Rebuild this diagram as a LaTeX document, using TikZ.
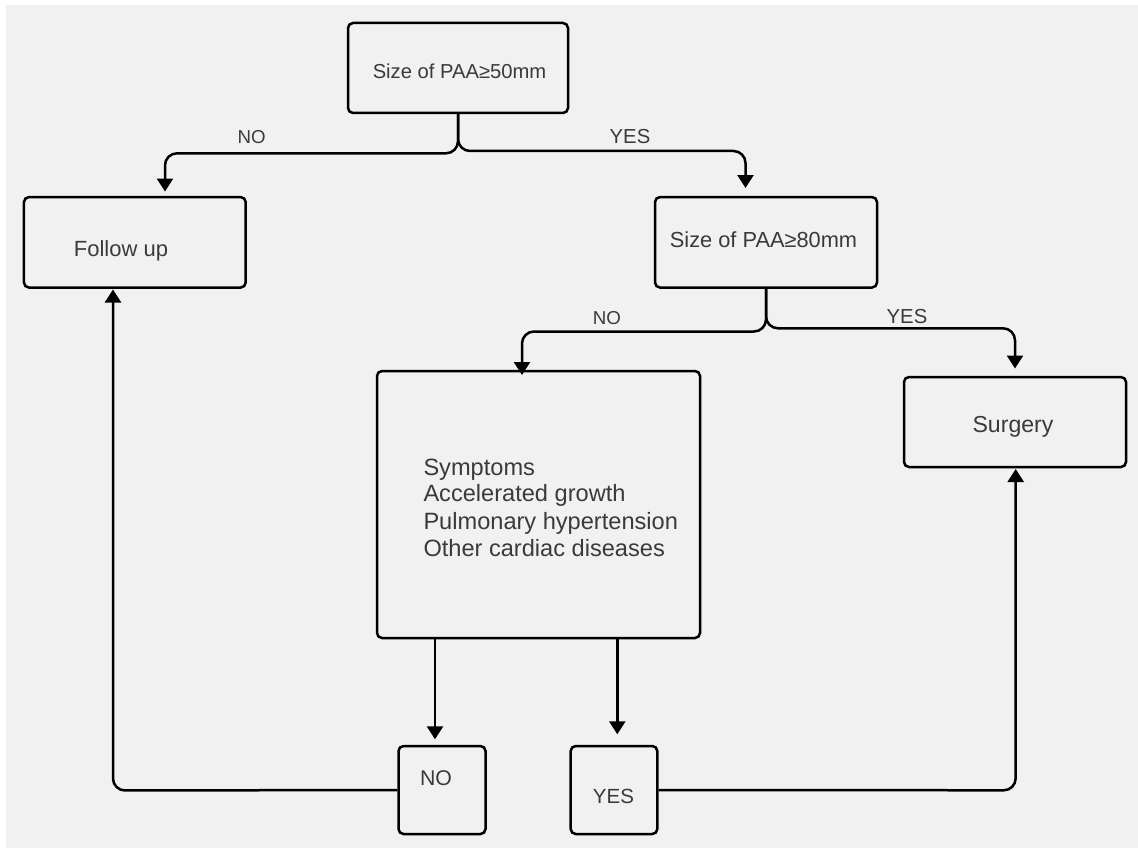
\documentclass[tikz,border=0pt]{standalone}
\usepackage{fontspec}
\setmainfont{Liberation Sans}
\usetikzlibrary{arrows.meta}
\definecolor{bggray}{HTML}{F1F1F1}
\definecolor{txt}{HTML}{3A3A3A}
\tikzset{
  box/.style={draw=black, line width=2.5pt, rounded corners=5pt, inner sep=0pt, fill=bggray},
  conn/.style={draw=black, line width=2.5pt, rounded corners=12pt},
  arr/.style={conn, -{Triangle[length=13pt,width=16pt]}},
  lbl/.style={text=txt, inner sep=0pt, anchor=base},
}
\newcommand{\fs}[1]{\fontsize{#1}{#1}\selectfont}
\begin{document}
\begin{tikzpicture}[x=1pt,y=-1pt]
\useasboundingbox (0,0) rectangle (1138,848);
\fill[white] (0,0) rectangle (1138,848);
\fill[bggray] (6,5) rectangle (1138,848);

% boxes
\node[box, minimum width=220pt, minimum height=90pt] (top) at (458,68) {};
\node[box, minimum width=221.7pt, minimum height=90.5pt] (follow) at (134.8,242.3) {};
\node[box, minimum width=222pt, minimum height=90.5pt] (box2) at (766,242.3) {};
\node[box, minimum width=323pt, minimum height=267pt] (mid) at (538.5,504.5) {};
\node[box, minimum width=222pt, minimum height=90pt] (surg) at (1015,422) {};
\node[box, minimum width=87pt, minimum height=88pt] (nobox) at (442,790) {};
\node[box, minimum width=86.6pt, minimum height=88pt] (yesbox) at (614,790) {};

% texts
\node[lbl, font=\fs{20.2}] (t1) at (459.5,79) {Size of PAA≥50mm};
\node[lbl, font=\fs{21.8}] (t2) at (763.5,247.7) {Size of PAA≥80mm};
\node[lbl, font=\fs{22}] (t3) at (121,256) {Follow up};
\node[lbl, font=\fs{23.1}] (t4) at (1013,432.7) {Surgery};
\node[lbl, font=\fs{21.3}] (t5) at (436,785) {NO};
\node[lbl, font=\fs{20.5}] (t6) at (613.5,803.3) {YES};
\node[lbl, font=\fs{23.6}, anchor=base west] (m1) at (423.3,475) {Symptoms};
\node[lbl, font=\fs{23.6}, anchor=base west] (m2) at (423.3,501.9) {Accelerated growth};
\node[lbl, font=\fs{23.6}, anchor=base west] (m3) at (423.3,529.2) {Pulmonary hypertension};
\node[lbl, font=\fs{23.6}, anchor=base west] (m4) at (423.3,556.5) {Other cardiac diseases};

% branch labels
\node[lbl, font=\fs{18.7}] (l1) at (251.7,144) {NO};
\node[lbl, font=\fs{20.3}] (l2) at (630,144) {YES};
\node[lbl, font=\fs{18.7}] (l3) at (607,324) {NO};
\node[lbl, font=\fs{20.3}] (l4) at (907,323.3) {YES};

% connectors
\draw[arr] (top.south) -- (458,153.3) -- (165,153.3) -- (165,191.5);
\draw[arr] (top.south) -- (458,151) -- (745.5,151) -- (745.5,188);
\draw[arr] (box2.south) -- (766,331.5) -- (522,331.5) -- (522,375);
\draw[arr] (box2.south) -- (766,328.3) -- (1015,328.3) -- (1015,368.5);
\draw[arr] ([xshift=-103.5pt]mid.south) -- (435,739.3);
\draw[arr] ([xshift=78.8pt]mid.south) -- (617.3,734.3);
\draw[arr] (nobox.west) -- (113,790.5) -- (113,289.5);
\draw[arr] (yesbox.east) -- (1015.7,790.3) -- (1015.7,469);
\end{tikzpicture}
\end{document}
